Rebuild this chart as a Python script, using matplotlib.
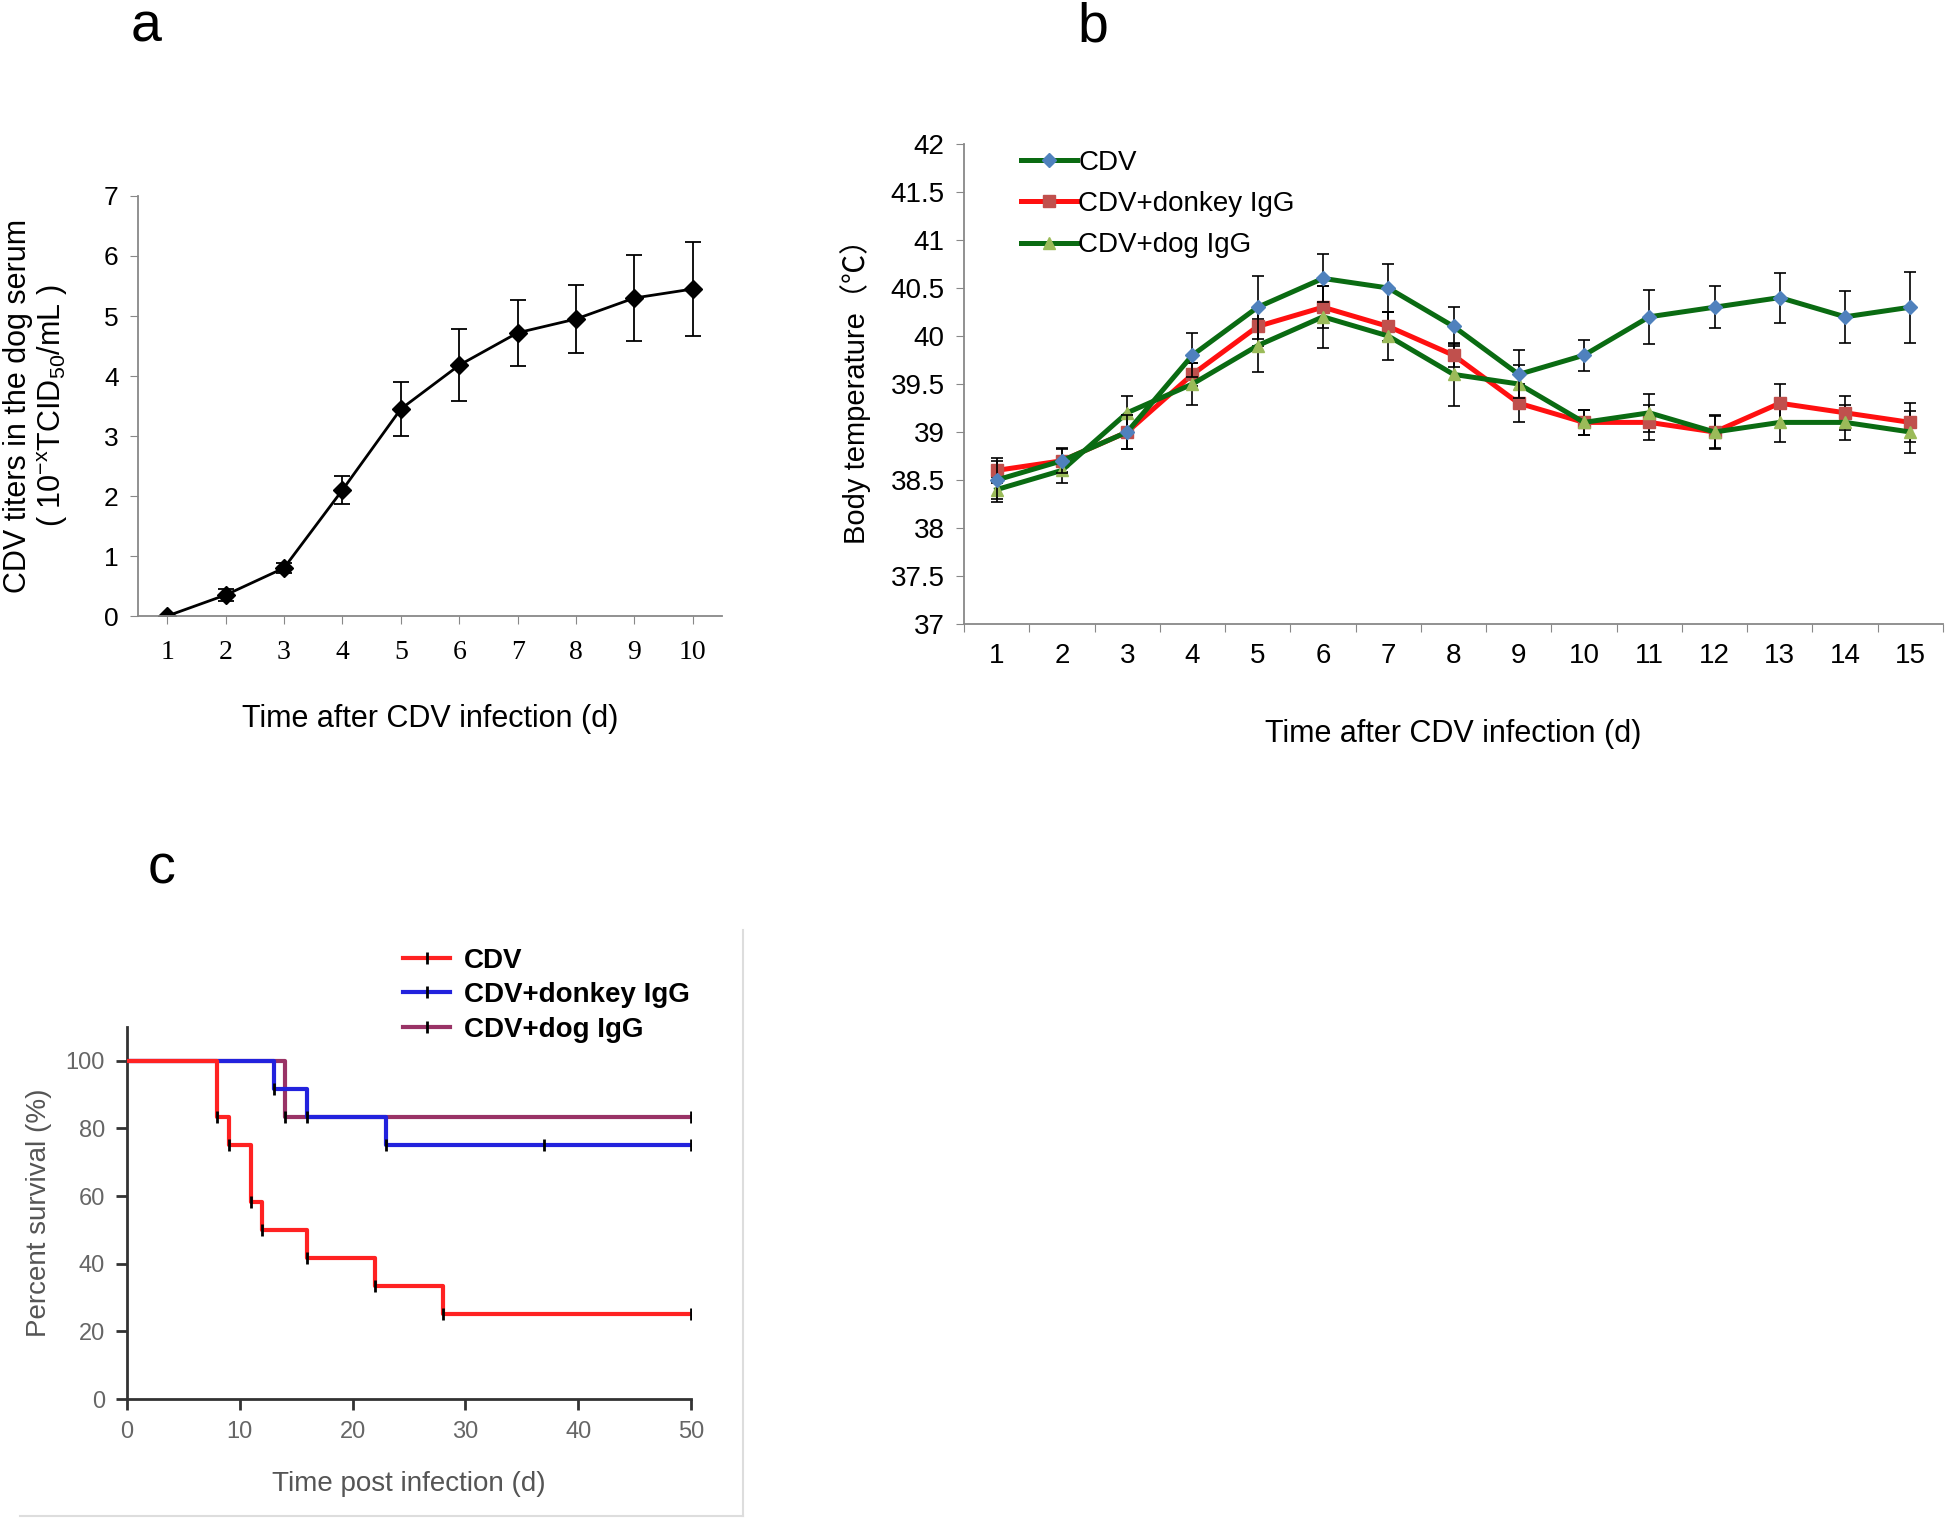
import matplotlib
matplotlib.use("Agg")
import matplotlib.pyplot as plt
from matplotlib.lines import Line2D
import numpy as np

plt.rcParams['font.family'] = ['Liberation Sans', 'Noto Sans CJK SC', 'DejaVu Sans']
plt.rcParams['mathtext.fontset'] = 'custom'
plt.rcParams['mathtext.rm'] = 'Liberation Sans'
plt.rcParams['mathtext.it'] = 'Liberation Sans'

# ---------------- data ----------------
# panel a
days_a = [1, 2, 3, 4, 5, 6, 7, 8, 9, 10]
titer = [0.0, 0.35, 0.80, 2.10, 3.45, 4.18, 4.72, 4.95, 5.30, 5.45]
titer_err = [0.0, 0.10, 0.08, 0.23, 0.45, 0.60, 0.55, 0.57, 0.72, 0.78]

# panel b
days_b = list(range(1, 16))
temp_cdv = [38.5, 38.7, 39.0, 39.8, 40.3, 40.6, 40.5, 40.1, 39.6, 39.8, 40.2, 40.3, 40.4, 40.2, 40.3]
err_cdv = [0.20, 0.13, 0.18, 0.23, 0.33, 0.25, 0.25, 0.20, 0.25, 0.16, 0.28, 0.22, 0.26, 0.27, 0.37]
temp_donkey = [38.6, 38.7, 39.0, 39.6, 40.1, 40.3, 40.1, 39.8, 39.3, 39.1, 39.1, 39.0, 39.3, 39.2, 39.1]
err_donkey = [0.13, 0.12, 0.18, 0.12, 0.20, 0.22, 0.15, 0.12, 0.20, 0.13, 0.18, 0.17, 0.20, 0.18, 0.20]
temp_dog = [38.4, 38.6, 39.2, 39.5, 39.9, 40.2, 40.0, 39.6, 39.5, 39.1, 39.2, 39.0, 39.1, 39.1, 39.0]
err_dog = [0.13, 0.13, 0.17, 0.22, 0.28, 0.32, 0.25, 0.33, 0.20, 0.13, 0.20, 0.18, 0.20, 0.18, 0.22]
series_b = ["CDV", "CDV+donkey IgG", "CDV+dog IgG"]

# panel c (Kaplan-Meier steps)
km_cdv_t = [0, 8, 9, 11, 12, 16, 22, 28, 50]
km_cdv_s = [100, 83.3, 75, 58.3, 50, 41.7, 33.3, 25, 25]
km_donkey_t = [0, 13, 16, 23, 50]
km_donkey_s = [100, 91.7, 83.3, 75, 75]
km_dog_t = [0, 14, 50]
km_dog_s = [100, 83.3, 83.3]
censor_donkey = [37, 50]
series_c = ["CDV", "CDV+donkey IgG", "CDV+dog IgG"]

W, H = 1946, 1521
fig = plt.figure(figsize=(W / 100, H / 100), dpi=100)


def box(l, r, t, b):
    return [l / W, 1 - b / H, (r - l) / W, (b - t) / H]


# ---------------- panel a ----------------
ax = fig.add_axes(box(138, 722, 196, 616))
ax.errorbar(days_a, titer, yerr=titer_err, color='black', lw=2, marker='D',
            ms=9, capsize=6, elinewidth=1.3, capthick=1.3, ecolor='black')
ax.set_xlim(0.5, 10.5)
ax.set_ylim(0, 7)
ax.set_yticks(range(0, 8))
ax.set_xticks(days_a)
for s in ['top', 'right']:
    ax.spines[s].set_visible(False)
for s in ['left', 'bottom']:
    ax.spines[s].set_color('#888888')
    ax.spines[s].set_linewidth(1.3)
ax.tick_params(axis='y', direction='out', length=6, color='#888888', labelsize=19, pad=8)
ax.tick_params(axis='x', direction='out', length=6, color='#888888', labelsize=20, pad=11)
for lab in ax.get_xticklabels():
    lab.set_family('Liberation Serif')
ax.set_xlabel('Time after CDV infection (d)', fontsize=22, labelpad=28)
ax.set_ylabel('CDV titers in the dog serum\n( 10$^{-x}$TCID$_{50}$/mL )', fontsize=22,
              labelpad=24, linespacing=1.1)

# ---------------- panel b ----------------
ax = fig.add_axes(box(964, 1943, 144, 624))
dark_green = '#0A6B12'
styles_b = [
    dict(color=dark_green, marker='D', ms=7, mfc='#4F81BD', mec='#4F81BD'),
    dict(color='#FF1010', marker='s', ms=8, mfc='#C0504D', mec='#C0504D'),
    dict(color=dark_green, marker='^', ms=9, mfc='#9BBB59', mec='#9BBB59'),
]
for vals, errs, st, z in [(temp_cdv, err_cdv, styles_b[0], 3),
                          (temp_donkey, err_donkey, styles_b[1], 2),
                          (temp_dog, err_dog, styles_b[2], 2)]:
    ax.errorbar(days_b, vals, yerr=errs, lw=3.6, capsize=4, elinewidth=1.2,
                capthick=1.2, ecolor='black', zorder=z, **st)
ax.set_xlim(0.5, 15.5)
ax.set_ylim(37, 42)
ax.set_yticks(np.arange(37, 42.01, 0.5))
ax.set_yticklabels([('%g' % v) for v in np.arange(37, 42.01, 0.5)])
ax.set_xticks(np.arange(0.5, 15.6, 1), minor=False)
ax.set_xticklabels([])
ax.set_xticks(days_b, minor=True)
ax.set_xticklabels([str(d) for d in days_b], minor=True)
for s in ['top', 'right']:
    ax.spines[s].set_visible(False)
for s in ['left', 'bottom']:
    ax.spines[s].set_color('#888888')
    ax.spines[s].set_linewidth(1.3)
ax.tick_params(axis='y', direction='out', length=6, color='#888888', labelsize=20, pad=8)
ax.tick_params(axis='x', which='major', direction='out', length=6, color='#888888')
ax.tick_params(axis='x', which='minor', length=0, labelsize=20, pad=14)
ax.set_xlabel('Time after CDV infection (d)', fontsize=22, labelpad=36)
ax.set_ylabel('Body temperature（℃）', fontsize=21, labelpad=14,
              family=['Liberation Sans', 'Noto Sans CJK SC'])
handles_b = [Line2D([0], [0], lw=3.6, **st) for st in styles_b]
ax.legend(handles_b, series_b, loc='upper left', bbox_to_anchor=(0.033, 1.04), frameon=False,
          prop={'size': 20}, handlelength=2.0, handletextpad=0.05, labelspacing=0.55)

# ---------------- panel c ----------------
ax = fig.add_axes(box(127, 691, 1027, 1399))
c_red, c_blue, c_purple = '#FF2222', '#2222DD', '#993366'
ax.step(km_dog_t, km_dog_s, where='post', color=c_purple, lw=3, zorder=2)
ax.step(km_donkey_t, km_donkey_s, where='post', color=c_blue, lw=3, zorder=3)
ax.step(km_cdv_t, km_cdv_s, where='post', color=c_red, lw=3, zorder=4)
# step / censor marks
for t_, s_ in [(km_cdv_t, km_cdv_s), (km_donkey_t, km_donkey_s), (km_dog_t, km_dog_s)]:
    ax.plot(t_[1:], s_[1:], ls='none', marker='|', color='black', ms=9, mew=2, zorder=5)
ax.plot(censor_donkey[:1], [km_donkey_s[-1]], ls='none', marker='|', color='black',
        ms=9, mew=2, zorder=5)
ax.set_xlim(0, 50)
ax.set_ylim(0, 110)
ax.set_xticks([0, 10, 20, 30, 40, 50])
ax.set_yticks([0, 20, 40, 60, 80, 100])
for s in ['top', 'right']:
    ax.spines[s].set_visible(False)
for s in ['left', 'bottom']:
    ax.spines[s].set_color('#333333')
    ax.spines[s].set_linewidth(2)
ax.tick_params(direction='out', length=8, width=2, color='#333333', labelsize=17,
               labelcolor='#666666', pad=8)
ax.set_xlabel('Time post infection (d)', fontsize=20, color='#555555', labelpad=20)
ax.set_ylabel('Percent survival (%)', fontsize=20, color='#555555', labelpad=10)
handles = [Line2D([0], [0], color=c, lw=3, marker='|', mec='black', ms=9, mew=2)
           for c in (c_red, c_blue, c_purple)]
ax.legend(handles, series_c, loc='upper left', bbox_to_anchor=(0.445, 1.28), frameon=False,
          prop={'weight': 'bold', 'size': 20}, handlelength=1.7, labelspacing=0.3,
          handletextpad=0.5)

# frame around panel c
fig.add_artist(Line2D([20 / W, 743 / W], [1 - 1516 / H, 1 - 1516 / H], color='#DDDDDD', lw=1.5))
fig.add_artist(Line2D([743 / W, 743 / W], [1 - 930 / H, 1 - 1516 / H], color='#DDDDDD', lw=1.5))

# panel letters
fig.text(146 / W, 1 - 27 / H, 'a', fontsize=40, ha='center', va='center')
fig.text(1093 / W, 1 - 27 / H, 'b', fontsize=40, ha='center', va='center')
fig.text(161 / W, 1 - 869 / H, 'c', fontsize=40, ha='center', va='center')

fig.savefig('out.png', dpi=100, facecolor='white')
